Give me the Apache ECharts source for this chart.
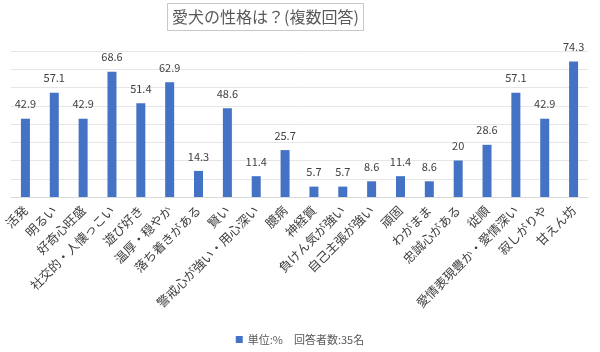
<!DOCTYPE html>
<html><head><meta charset="utf-8">
<script src="https://cdn.jsdelivr.net/npm/echarts@6/dist/echarts.min.js"></script>
<style>html,body{margin:0;padding:0;background:#fff}#c{width:600px;height:352px}</style>
</head><body><div id="c"></div>
<script>
const categories = ["活発","明るい","好奇心旺盛","社交的・人懐っこい","遊び好き","温厚・穏やか","落ち着きがある","賢い","警戒心が強い・用心深い","臆病","神経質","負けん気が強い","自己主張が強い","頑固","わがまま","忠誠心がある","従順","愛情表現豊か・愛情深い","寂しがりや","甘えん坊"];
const values = [42.9,57.1,42.9,68.6,51.4,62.9,14.3,48.6,11.4,25.7,5.7,5.7,8.6,11.4,8.6,20,28.6,57.1,42.9,74.3];
const seriesName = "単位:%　回答者数:35名";
const titleText = "愛犬の性格は？(複数回答)";
const font = '"Noto Sans CJK JP","Noto Sans",sans-serif';
const chart = echarts.init(document.getElementById('c'));
chart.setOption({
  animation:false,
  textStyle:{fontFamily:font},
  title:{text:titleText,left:167,top:3,padding:[6,5,6,5],borderWidth:1,borderColor:'#c8c8c8',
    textStyle:{fontSize:16,fontWeight:'normal',color:'#595959',fontFamily:font}},
  legend:{bottom:2,left:'center',itemWidth:7,itemHeight:7,icon:'rect',itemGap:4,
    textStyle:{fontSize:11,color:'#595959',fontFamily:font}},
  grid:{left:11,right:12,top:51,bottom:155,containLabel:false},
  xAxis:{type:'category',data:categories,
    axisLine:{lineStyle:{color:'#d9d9d9'}},axisTick:{show:false},
    axisLabel:{interval:0,rotate:45,fontSize:12.5,color:'#404040',margin:11,fontFamily:font}},
  yAxis:{type:'value',min:0,max:80,interval:10,axisLabel:{show:false},axisLine:{show:false},axisTick:{show:false},
    splitLine:{lineStyle:{color:'#e6e6e6'}}},
  series:[{name:seriesName,type:'bar',data:values,barWidth:9,
    itemStyle:{color:'#4472C4'},
    label:{show:true,position:'top',distance:9,fontSize:11,color:'#404040',fontFamily:font}}]
});
</script></body></html>
